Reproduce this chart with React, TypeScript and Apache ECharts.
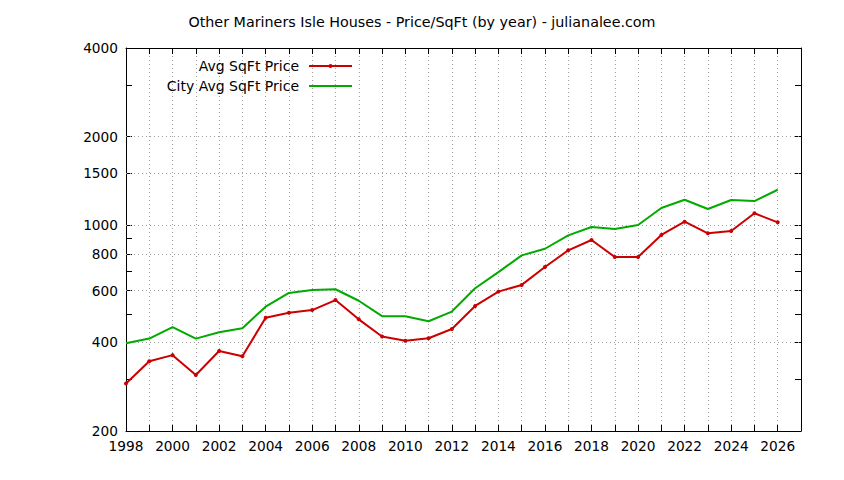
import React, { useEffect, useRef } from 'react';
import * as echarts from 'echarts';

const years = [1998, 1999, 2000, 2001, 2002, 2003, 2004, 2005, 2006, 2007, 2008, 2009, 2010, 2011, 2012, 2013, 2014, 2015, 2016, 2017, 2018, 2019, 2020, 2021, 2022, 2023, 2024, 2025, 2026];
const avgSqFt = [290, 345, 362, 310, 374, 359, 485, 504, 515, 557, 479, 419, 405, 413, 444, 532, 595, 627, 721, 822, 891, 780, 780, 927, 1028, 939, 956, 1098, 1023];
const cityAvgSqFt = [397, 412, 451, 412, 433, 447, 529, 589, 603, 606, 554, 491, 491, 472, 509, 611, 693, 790, 832, 924, 986, 971, 1002, 1144, 1221, 1135, 1218, 1208, 1320];
const yLabelTicks = [200, 400, 600, 800, 1000, 1500, 2000, 4000];
const yAllTicks = [200, 300, 400, 500, 600, 700, 800, 900, 1000, 1500, 2000, 3000, 4000];
const yGridValues = [400, 600, 800, 1000, 1500, 2000];

const FONT = 'DejaVu Sans';
const RED = '#cc0000';
const GREEN = '#00aa00';
const GRID_COLOR = '#a0a0a0';

export default function App() {
  const ref = useRef<HTMLDivElement>(null);
  useEffect(() => {
    if (!ref.current) return;
    const chart = echarts.init(ref.current, null, { renderer: 'svg' });
    const xCommon = {
      type: 'value',
      min: 1998,
      max: 2027,
      interval: 1,
      axisLine: { show: true, onZero: false, lineStyle: { color: '#000', width: 1 } },
      axisTick: { show: true, inside: true, length: 6, lineStyle: { color: '#000' } },
    };
    const yCommon = {
      type: 'log',
      logBase: 10,
      min: 200,
      max: 4000,
      axisLine: { show: true, lineStyle: { color: '#000', width: 1 } },
      axisTick: { show: true, inside: true, length: 6, customValues: yAllTicks, lineStyle: { color: '#000' } },
      splitLine: { show: false },
      minorTick: { show: false },
      minorSplitLine: { show: false },
    };
    const legendCommon = {
      right: 491,
      padding: 0,
      align: 'right',
      itemWidth: 43,
      itemHeight: 5,
      textStyle: { fontFamily: FONT, fontSize: 14, color: '#000', padding: [0, 5, 0, 0] },
    };
    chart.setOption({
      animation: false,
      backgroundColor: '#fff',
      title: {
        text: 'Other Mariners Isle Houses - Price/SqFt (by year) - julianalee.com',
        left: 'center',
        top: 10,
        textStyle: { fontFamily: FONT, fontSize: 14.3, fontWeight: 'normal', color: '#000' },
      },
      legend: [
        { ...legendCommon, data: [{ name: 'Avg SqFt Price' }], top: 59 },
        { ...legendCommon, data: [{ name: 'City Avg SqFt Price', itemStyle: { opacity: 0 } }], top: 79 },
      ],
      grid: { left: 126, right: 43, top: 48, bottom: 49, containLabel: false },
      xAxis: [
        {
          ...xCommon,
          position: 'bottom',
          axisLabel: {
            show: true,
            margin: 8,
            fontFamily: FONT,
            fontSize: 13.7,
            color: '#000',
            formatter: (v: number) => (v % 2 === 0 ? String(v) : ''),
          },
          splitLine: { show: true, lineStyle: { color: GRID_COLOR, type: [1, 3], width: 1 } },
        },
        {
          ...xCommon,
          position: 'top',
          axisLabel: { show: false },
          splitLine: { show: false },
        },
      ],
      yAxis: [
        {
          ...yCommon,
          position: 'left',
          axisLabel: {
            show: true,
            customValues: yLabelTicks,
            margin: 8,
            fontFamily: FONT,
            fontSize: 13.7,
            color: '#000',
            formatter: (v: number) => String(Math.round(v)),
          },
        },
        {
          ...yCommon,
          position: 'right',
          axisLabel: { show: false },
        },
      ],
      series: [
        {
          name: 'City Avg SqFt Price',
          type: 'line',
          xAxisIndex: 0,
          yAxisIndex: 0,
          data: years.map((y, i) => [y, cityAvgSqFt[i]]),
          showSymbol: false,
          symbol: 'none',
          lineStyle: { color: GREEN, width: 2 },
          itemStyle: { color: GREEN },
          z: 3,
          markLine: {
            silent: true,
            symbol: ['none', 'none'],
            label: { show: false },
            lineStyle: { color: GRID_COLOR, type: [1, 3], width: 1 },
            data: yGridValues.map((v) => ({ yAxis: v })),
            z: 1,
          },
        },
        {
          name: 'Avg SqFt Price',
          type: 'line',
          xAxisIndex: 0,
          yAxisIndex: 0,
          data: years.map((y, i) => [y, avgSqFt[i]]),
          symbol: 'circle',
          symbolSize: 4,
          lineStyle: { color: RED, width: 2 },
          itemStyle: { color: RED },
          z: 4,
        },
      ],
    });
    return () => chart.dispose();
  }, []);
  return <div ref={ref} style={{ position: 'fixed', left: 0, top: 0, width: 844, height: 480 }} />;
}
